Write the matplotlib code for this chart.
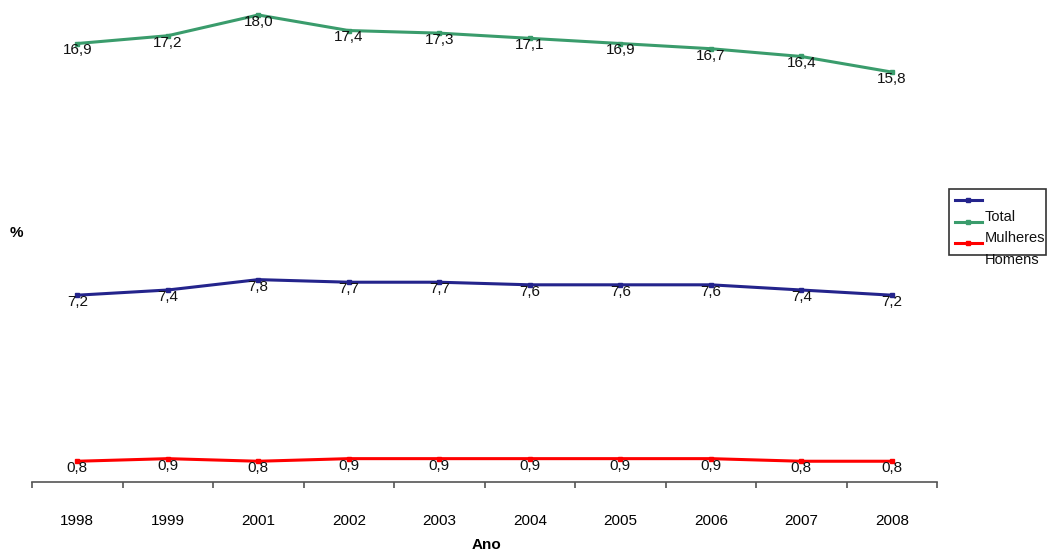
import matplotlib
matplotlib.use("Agg")
import matplotlib.pyplot as plt
from matplotlib.lines import Line2D
from matplotlib.patches import Rectangle

plt.rcParams['font.family'] = ['Liberation Sans', 'DejaVu Sans']

anos = ['1998', '1999', '2001', '2002', '2003', '2004', '2005', '2006', '2007', '2008']
total = [7.2, 7.4, 7.8, 7.7, 7.7, 7.6, 7.6, 7.6, 7.4, 7.2]
mulheres = [16.9, 17.2, 18.0, 17.4, 17.3, 17.1, 16.9, 16.7, 16.4, 15.8]
homens = [0.8, 0.9, 0.8, 0.9, 0.9, 0.9, 0.9, 0.9, 0.8, 0.8]

cor_total = '#24248c'
cor_mulheres = '#3a9c6c'
cor_homens = '#ff0000'

W, H = 1048, 552
fig = plt.figure(figsize=(W / 100, H / 100), dpi=100)
ax = fig.add_axes([32 / W, (H - 482) / H, 905 / W, 480 / H])

x = list(range(len(anos)))
for serie, cor in ((mulheres, cor_mulheres), (total, cor_total), (homens, cor_homens)):
    ax.plot(x, serie, color=cor, lw=2.2, marker='s', ms=3.5, mec=cor, mfc=cor, zorder=2)
    for xi, v in zip(x, serie):
        ax.annotate(f'{v:.1f}'.replace('.', ','), (xi, v), xytext=(0, -5),
                    textcoords='offset points', ha='center', va='center',
                    fontsize=11, color='#111111', zorder=3)

ax.set_xlim(-0.5, len(anos) - 0.5)
ax.set_ylim(0, 18.5)
for s in ('top', 'right', 'left'):
    ax.spines[s].set_visible(False)
ax.spines['bottom'].set_color('#555555')
ax.spines['bottom'].set_linewidth(1.2)
ax.set_yticks([])

ax.set_xticks(x)
ax.set_xticklabels(anos, fontsize=11)
ax.tick_params(axis='x', which='major', length=0, pad=23)
ax.set_xticks([i - 0.5 for i in range(len(anos) + 1)], minor=True)
ax.tick_params(axis='x', which='minor', length=4, width=1.2, color='#555555')


# figure-pixel helpers
def fx(px):
    return px / W


def fy(py):
    return 1 - py / H


fig.text(fx(487), fy(545), 'Ano', fontsize=11, fontweight='bold', ha='center', va='center')
fig.text(fx(16), fy(233), '%', fontsize=11, fontweight='bold', ha='center', va='center')

# legend box
fig.add_artist(Rectangle((fx(949), fy(255)), fx(1046) - fx(949), fy(189) - fy(255),
                         transform=fig.transFigure, fill=False, ec='#333333', lw=1.2))
for py, cor in ((200, cor_total), (222, cor_mulheres), (243, cor_homens)):
    fig.add_artist(Line2D([fx(955), fx(982)], [fy(py), fy(py)], color=cor, lw=2.2,
                          transform=fig.transFigure))
    fig.add_artist(Line2D([fx(968)], [fy(py)], color=cor, marker='s', ms=3.5,
                          transform=fig.transFigure))
for py, txt in ((217, 'Total'), (238, 'Mulheres'), (260, 'Homens')):
    fig.text(fx(985), fy(py), txt, fontsize=10.5, ha='left', va='center', color='#111111')

fig.savefig('out.png', dpi=100)
